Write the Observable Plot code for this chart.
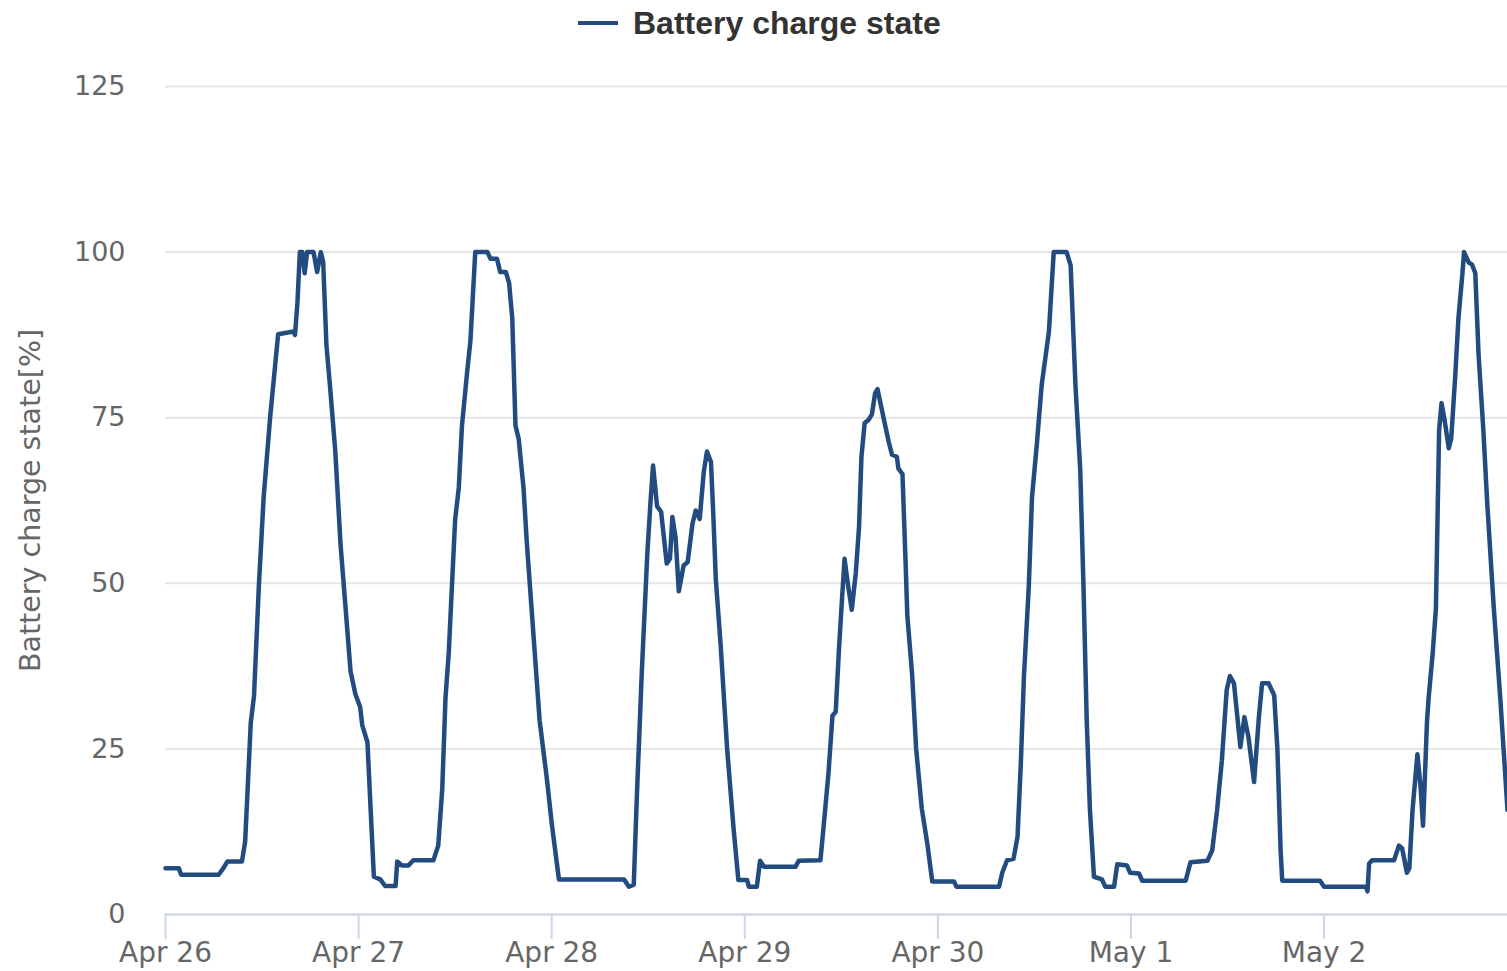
<!DOCTYPE html>
<html>
<head>
<meta charset="utf-8">
<script src="https://cdn.jsdelivr.net/npm/d3@7"></script>
<script src="https://cdn.jsdelivr.net/npm/@observablehq/plot@0.6"></script>
<style>
  html, body { margin: 0; padding: 0; background: #fff; }
  #wrap { position: relative; width: 1507px; height: 971px; overflow: hidden; }
  #legend { position: absolute; left: 0; top: 0; width: 1507px; height: 50px; }
  #legend .sym { position: absolute; left: 578px; top: 21px; width: 40px; height: 4px; background: #224b80; }
  #legend .lab { position: absolute; left: 633px; top: 7px; font-family: "Liberation Sans", Arial, sans-serif; font-weight: bold; font-size: 32px; line-height: 32px; color: #333; white-space: nowrap; }
  #chart { position: absolute; left: 0; top: 50px; }
</style>
</head>
<body>
<div id="wrap">
  <div id="legend"><div class="sym"></div><div class="lab">Battery charge state</div></div>
  <div id="chart"></div>
</div>
<script>
// Hours after Apr 26 00:00
const hours = [0,1.65,1.95,6.6,7.2,7.7,9.5,9.9,10.6,11,11.6,12.2,13,14,15.9,16.1,16.4,16.7,17.0,17.3,17.6,18.4,18.85,19.3,19.6,20,20.5,21.1,21.75,22.4,23,23.6,24.2,24.45,25.1,25.5,25.9,26.7,27.3,28.6,28.8,29.4,30.2,30.8,33.3,33.9,34.4,34.8,35.2,35.6,36,36.45,36.85,37.5,37.9,38.5,40,40.4,41.2,41.6,42.3,42.7,43.1,43.5,43.9,44.5,44.9,45.7,46.5,47.4,48,48.9,57,57.6,58.2,58.6,59.2,59.9,60.3,60.6,61.1,61.6,62.3,62.7,63,63.4,63.8,64.4,64.9,65.5,65.9,66.4,66.9,67.3,67.8,68.1,68.4,69,69.8,70.6,71.2,72.3,72.5,73.5,73.9,74.4,78.3,78.7,81.4,81.8,82.4,82.9,83.3,83.7,84.1,84.4,84.8,85.3,85.8,86.2,86.5,86.9,87.4,87.8,88.2,88.5,88.9,89.3,89.9,90.3,90.9,91.1,91.6,92,92.2,92.8,93.3,94,94.7,95.3,98,98.3,103.6,104,104.6,105.4,105.9,106.3,106.7,107.3,107.7,108.3,108.9,109.8,110.4,112,112.5,113.1,113.7,114.1,114.5,114.9,115.4,116.4,116.8,117.9,118.3,119.5,119.9,121,121.4,126.8,127.4,129.5,130.1,130.7,131.3,131.9,132.3,132.8,133.6,134.1,134.6,135.3,135.9,136.3,137.1,137.8,138.2,138.6,138.8,143.5,144,149.2,149.4,149.6,150,152.7,153.3,153.7,154.3,154.6,155,155.6,156,156.3,156.8,157,157.5,157.9,158.1,158.3,158.6,159,159.5,159.8,160.3,160.7,161.2,161.4,162,162.4,162.8,163.2,163.8,164.3,165.1,165.9,166.8];
// Battery charge state [%]
const charge = [7,7,6,6,7,8,8,11,29,33,49.5,63,75,87.6,88,87.5,92.4,100,100,96.8,100,100,97,100,98.5,86,79,70,56,46,36.7,33.3,31.3,28.6,26,15.8,5.7,5.3,4.3,4.3,8,7.4,7.4,8.2,8.2,10.4,19,32.7,39.4,49.5,59.6,64.4,73.8,82,86.6,100,100,99,99,97,97,95.4,90,73.8,71.8,64.4,56.3,42.8,29.3,20.5,13.8,5.3,5.3,4.2,4.5,18.3,36.6,54.8,62.6,67.8,61.6,60.8,53,53.7,60,56.9,48.8,52.7,53.2,59,61,59.7,66.8,69.9,68.3,60,50.6,40.7,25.1,13.1,5.2,5.2,4.2,4.2,8.1,7.2,7.2,8.1,8.2,13.3,21.3,30,30.6,39.9,47.9,53.7,50,46,51.6,58.5,69.1,74.2,74.7,75.5,78.7,79.3,77,74.7,71.3,69.4,69.1,67.3,66.5,52.7,45.2,36.2,25,16,10.6,5,5,4.2,4.2,6.3,8.2,8.4,11.7,22.5,36,49.5,63,71,79.9,88,100,100,98,79.9,67,49.5,29.3,15.8,5.7,5.3,4.2,4.2,7.6,7.4,6.3,6.2,5.1,5.1,7.9,8.1,9.7,15.7,23.3,33.9,36,34.9,25.3,29.8,26.8,20,29.8,34.9,34.9,33.1,25,9.7,5.1,5.1,4.2,4.2,3.5,7.7,8.2,8.2,10.4,10,6.3,7,15.8,24.2,19.2,13.4,29.3,32.7,39.4,46.2,59.6,73.1,77.2,74.5,70.4,71.8,81.2,90,96.8,100,98.4,98.1,96.8,84.6,73.1,61.7,46.2,32.7,15.8];
const yTicks = [0, 25, 50, 75, 100, 125];
const dayLabels = ["Apr 26", "Apr 27", "Apr 28", "Apr 29", "Apr 30", "May 1", "May 2"];
const yTitle = "Battery charge state[%]";

const start = Date.UTC(2024, 3, 26);
const data = hours.map((h, i) => ({t: new Date(start + h * 3600e3), v: charge[i]}));
const dayTicks = dayLabels.map((_, i) => new Date(start + i * 86400e3));
const endTime = new Date(start + hours[hours.length - 1] * 3600e3);

const chart = Plot.plot({
  width: 1507,
  height: 921,
  marginLeft: 165,
  marginRight: 0,
  marginTop: 36,
  marginBottom: 57,
  style: {fontFamily: "'DejaVu Sans', sans-serif", fontSize: "28px", background: "#fff"},
  x: {type: "utc", domain: [new Date(start), endTime]},
  y: {domain: [0, 125]},
  marks: [
    Plot.gridY(yTicks, {stroke: "#e6e6e6", strokeOpacity: 1, strokeWidth: 2}),
    Plot.axisY(yTicks, {tickSize: 0, tickPadding: 40, fill: "#666", fontSize: 27, label: null}),
    Plot.axisX(dayTicks, {tickSize: 25, tickPadding: 3, stroke: "#ccd6eb", strokeWidth: 2, strokeOpacity: 1, fill: "#666", fontSize: 28, label: null,
      tickFormat: (d, i) => dayLabels[i]}),
    Plot.ruleY([0], {stroke: "#ccd6eb", strokeWidth: 2}),
    Plot.line(data, {x: "t", y: "v", stroke: "#224b80", strokeWidth: 4.5, strokeLinejoin: "round", strokeLinecap: "round"}),
    Plot.text([yTitle], {frameAnchor: "left", dx: -135, rotate: -90, textAnchor: "middle", fill: "#666", fontSize: 28.5, text: d => d})
  ]
});
document.getElementById("chart").appendChild(chart);
</script>
</body>
</html>
